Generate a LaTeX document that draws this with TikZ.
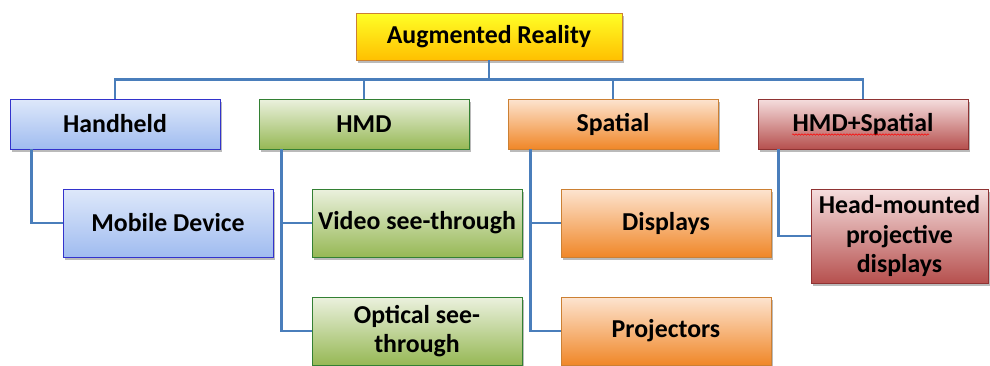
\documentclass[tikz,border=0pt]{standalone}
\usepackage{fontspec}
\setmainfont{Carlito}
\usetikzlibrary{shadows,decorations.pathmorphing}
\definecolor{conncol}{HTML}{4A7EBB}
\tikzset{
  box/.style={rectangle, draw=#1!60!gray, line width=0.6pt, inner sep=2pt, align=center,
    font=\bfseries\fontsize{25.8}{29.5}\selectfont,
    drop shadow={shadow xshift=2pt, shadow yshift=-2.5pt, opacity=0.45, fill=black!60}},
  ybox/.style={box=orange, top color=yellow!85!white, bottom color={rgb,255:red,255;green,192;blue,0}},
  bbox/.style={box=blue, top color={rgb,255:red,222;green,232;blue,250}, bottom color={rgb,255:red,160;green,188;blue,240}},
  gbox/.style={box=green!50!black, top color={rgb,255:red,235;green,241;blue,222}, bottom color={rgb,255:red,150;green,184;blue,85}},
  obox/.style={box=orange, top color={rgb,255:red,253;green,228;blue,208}, bottom color={rgb,255:red,240;green,135;blue,40}},
  rbox/.style={box=red!60!black, top color={rgb,255:red,245;green,222;blue,222}, bottom color={rgb,255:red,182;green,80;blue,78}},
  conn/.style={draw=conncol, line width=2.8pt}
}
\begin{document}
\begin{tikzpicture}[x=1pt,y=1pt]
\useasboundingbox (0,0) rectangle (990,-365);
% nodes
\node[ybox, minimum width=266pt, minimum height=47pt] (ar) at (489,-36.5) {Augmented Reality};
\node[bbox, minimum width=210pt, minimum height=50pt] (hh) at (115,-124) {Handheld};
\node[gbox, minimum width=210pt, minimum height=50pt] (hmd) at (364,-124) {HMD};
\node[obox, minimum width=210pt, minimum height=50pt] (sp) at (613,-124) {Spatial};
\node[rbox, minimum width=210pt, minimum height=50pt] (hs) at (863,-124) {HMD+Spatial};
\node[bbox, minimum width=210pt, minimum height=68pt] (mob) at (168,-223) {Mobile Device};
\node[gbox, minimum width=210pt, minimum height=68pt] (vid) at (417,-223) {Video see-through};
\node[gbox, minimum width=210pt, minimum height=68pt] (opt) at (417,-331) {Optical see-\\through};
\node[obox, minimum width=210pt, minimum height=68pt] (dis) at (666,-223) {Displays};
\node[obox, minimum width=210pt, minimum height=68pt] (pro) at (666,-331) {Projectors};
\node[rbox, minimum width=177pt, minimum height=94pt] (hmp) at (899.5,-236) {Head-mounted\\projective\\displays};
% spell-check squiggle
\draw[red, line width=0.5pt, decorate, decoration={snake, amplitude=0.7pt, segment length=3pt}]
  ([xshift=-71pt,yshift=-10.5pt]hs.center) -- ([xshift=66pt,yshift=-10.5pt]hs.center);
% connectors
\draw[conn] (ar.south) -- ++(0,-19) -| (hh.north);
\draw[conn] (ar.south) -- ++(0,-19) -| (hmd.north);
\draw[conn] (ar.south) -- ++(0,-19) -| (sp.north);
\draw[conn] (ar.south) -- ++(0,-19) -| (hs.north);
\draw[conn] ([xshift=22pt]hh.south west) |- (mob.west);
\draw[conn] ([xshift=23pt]hmd.south west) |- (vid.west);
\draw[conn] ([xshift=23pt]hmd.south west) |- (opt.west);
\draw[conn] ([xshift=23pt]sp.south west) |- (dis.west);
\draw[conn] ([xshift=23pt]sp.south west) |- (pro.west);
\draw[conn] ([xshift=21pt]hs.south west) |- (hmp.west);
\end{tikzpicture}
\end{document}
